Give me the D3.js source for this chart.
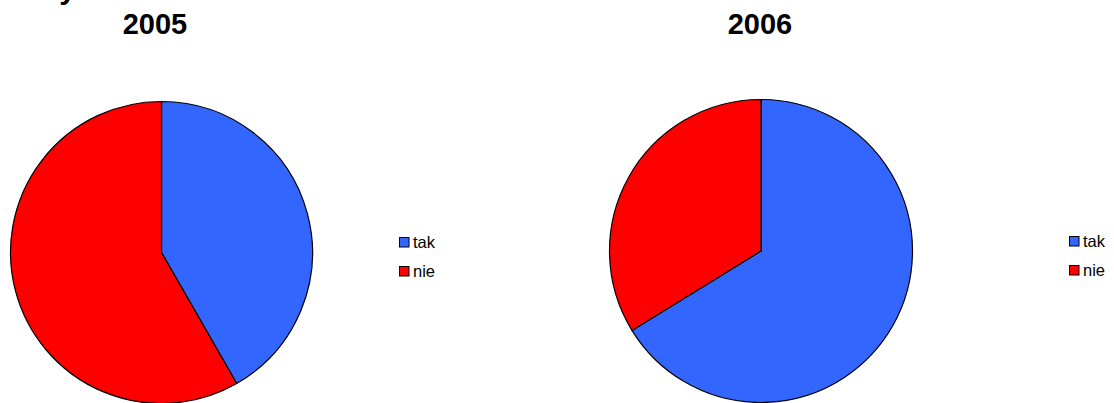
<!DOCTYPE html>
<html>
<head>
<meta charset="utf-8">
<script src="https://cdn.jsdelivr.net/npm/d3@7"></script>
<style>
  body { margin: 0; background: #fff; }
  svg { display: block; }
</style>
</head>
<body>
<div class="canvas"></div>
<script>
// data
const categories = ['tak', 'nie'];
const years = ['2005', '2006'];
const values2005 = [41.7, 58.3];
const values2006 = [66.2, 33.8];

const colors = ['#3366FF', '#FF0000'];

const svg = d3.select('.canvas')
  .append('svg')
    .attr('width', 1114)
    .attr('height', 403);

// clipped main title at the very top (only descenders visible)
svg.append('text')
  .attr('x', 76)
  .attr('y', -1)
  .attr('text-anchor', 'end')
  .attr('font-family', 'Liberation Sans, Arial, sans-serif')
  .attr('font-weight', 'bold')
  .attr('font-size', 30)
  .text('Czy');

// layout for each pie panel
const panels = [
  {year: years[0], values: values2005, cx: 161.5, cy: 252.5, r: 151, titleX: 155, legendX: 399, legendY: 237},
  {year: years[1], values: values2006, cx: 761, cy: 251, r: 151.5, titleX: 760, legendX: 1069, legendY: 236}
];

const color = d3.scaleOrdinal()
  .domain(categories)
  .range(colors);

const pie = d3.pie()
  .sort(null)
  .value(d => d.value);

panels.forEach(p => {
  const data = categories.map((c, i) => ({name: c, value: p.values[i]}));

  const arc = d3.arc()
    .innerRadius(0)
    .outerRadius(p.r);

  const g = svg.append('g')
    .attr('transform', `translate(${p.cx}, ${p.cy})`);

  g.selectAll('path')
    .data(pie(data))
    .enter()
    .append('path')
      .attr('d', arc)
      .attr('fill', d => color(d.data.name))
      .attr('stroke', '#000')
      .attr('stroke-width', 1.2)
      .attr('stroke-linejoin', 'round');

  // title
  svg.append('text')
    .attr('x', p.titleX)
    .attr('y', 34)
    .attr('text-anchor', 'middle')
    .attr('font-family', 'Liberation Sans, Arial, sans-serif')
    .attr('font-weight', 'bold')
    .attr('font-size', 29)
    .text(p.year);

  // legend
  const legend = svg.append('g')
    .attr('transform', `translate(${p.legendX}, ${p.legendY})`);

  const items = legend.selectAll('g')
    .data(categories)
    .enter()
    .append('g')
      .attr('transform', (d, i) => `translate(0, ${i * 29})`);

  items.append('rect')
    .attr('x', 0.5)
    .attr('y', 0.5)
    .attr('width', 9.5)
    .attr('height', 9.5)
    .attr('fill', d => color(d))
    .attr('stroke', '#000')
    .attr('stroke-width', 1);

  items.append('text')
    .attr('x', 14)
    .attr('y', 10.5)
    .attr('font-family', 'Liberation Sans, Arial, sans-serif')
    .attr('font-size', 16.5)
    .text(d => d);
});
</script>
</body>
</html>
